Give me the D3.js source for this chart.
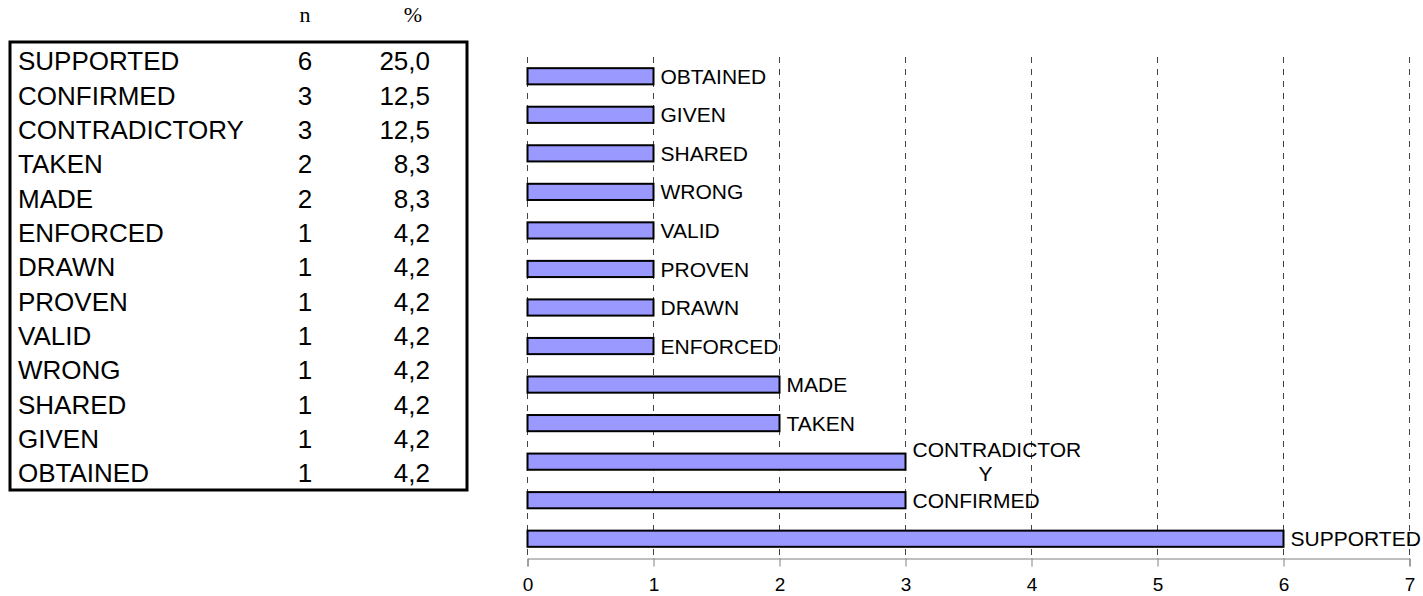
<!DOCTYPE html>
<html><head><meta charset="utf-8">
<script src="https://cdn.jsdelivr.net/npm/d3@7/dist/d3.min.js"></script>
<style>
body{margin:0;background:#fff;}
svg{display:block;}
</style></head>
<body>
<svg id="chart" width="1423" height="596"></svg>
<script>
// ---- data ----
const categories = ["SUPPORTED","CONFIRMED","CONTRADICTORY","TAKEN","MADE","ENFORCED","DRAWN","PROVEN","VALID","WRONG","SHARED","GIVEN","OBTAINED"];
const counts = [6,3,3,2,2,1,1,1,1,1,1,1,1];
const percents = ["25,0","12,5","12,5","8,3","8,3","4,2","4,2","4,2","4,2","4,2","4,2","4,2","4,2"];
const tableHeaders = ["n","%"];
const xTicks = [0,1,2,3,4,5,6,7];

(function(){
const svg = d3.select("#chart");
const sans = "'Liberation Sans', Arial, sans-serif";
const serif = "'Liberation Serif', 'Times New Roman', serif";

// ---- table ----
const tbl = svg.append("g");
tbl.append("rect").attr("x",10).attr("y",42).attr("width",457).attr("height",448)
  .attr("fill","none").attr("stroke","#000").attr("stroke-width",3);
const rowY = d3.scalePoint().domain(categories).range([61, 473]);
tbl.append("text").attr("x",305).attr("y",22).attr("text-anchor","middle")
  .attr("font-family",serif).attr("font-size",22).text(tableHeaders[0]);
tbl.append("text").attr("x",413).attr("y",22).attr("text-anchor","middle")
  .attr("font-family",serif).attr("font-size",22).text(tableHeaders[1]);
const rows = tbl.selectAll("g.row").data(categories).join("g").attr("class","row")
  .attr("transform", d => `translate(0,${rowY(d)})`)
  .attr("font-family", sans).attr("font-size", 26);
rows.append("text").attr("x",18).attr("dy","0.36em").text(d=>d);
rows.append("text").attr("x",305).attr("dy","0.36em").attr("text-anchor","middle").text((d,i)=>counts[i]);
rows.append("text").attr("x",430).attr("dy","0.36em").attr("text-anchor","end").text((d,i)=>percents[i]);

// ---- bar chart ----
const x = d3.scaleLinear().domain([0,7]).range([527.5,1409.5]);
const y = d3.scaleBand().domain(categories.slice().reverse()).range([57,558])
  .paddingInner(0.58).paddingOuter(0.29);
const plotTop = 57, plotBottom = 558.5;

const g = svg.append("g");
g.selectAll("line.grid").data(xTicks).join("line").attr("class","grid")
  .attr("x1",d=>x(d)).attr("x2",d=>x(d)).attr("y1",plotTop).attr("y2",plotBottom)
  .attr("stroke","#444").attr("stroke-width",1).attr("stroke-dasharray","6,6");

const axis = d3.axisBottom(x).tickValues(xTicks).tickSize(8).tickPadding(11).tickFormat(d3.format("d"));
const ax = g.append("g").attr("transform",`translate(0,${plotBottom})`).call(axis);
ax.select(".domain").attr("stroke","#808080");
ax.selectAll(".tick line").attr("stroke","#808080");
ax.selectAll(".tick text").attr("font-family",sans).attr("font-size",19).attr("fill","#000");

g.selectAll("rect.bar").data(categories).join("rect").attr("class","bar")
  .attr("x",x(0)).attr("y",d=>y(d))
  .attr("width",(d,i)=>x(counts[i])-x(0)).attr("height",y.bandwidth())
  .attr("fill","#9999FF").attr("stroke","#000").attr("stroke-width",2);

const maxLabelWidth = 170;
categories.forEach((c,i)=>{
  const lx = x(counts[i]) + 7;
  const cy = y(c) + y.bandwidth()/2;
  const t = g.append("text").attr("font-family",sans).attr("font-size",21).attr("fill","#000");
  t.attr("x",lx).attr("y",cy).attr("dy","0.36em").text(c);
  const w = t.node().getComputedTextLength();
  if (w > maxLabelWidth) {
    t.text(null);
    const first = c.slice(0, c.length-1), second = c.slice(c.length-1);
    t.append("tspan").attr("x",lx).attr("y",cy-12).attr("dy","0.36em").text(first);
    t.append("tspan").attr("x",lx+73).attr("y",cy+12).attr("dy","0.36em").attr("text-anchor","middle").text(second);
  }
});
})();
</script>
</body></html>
